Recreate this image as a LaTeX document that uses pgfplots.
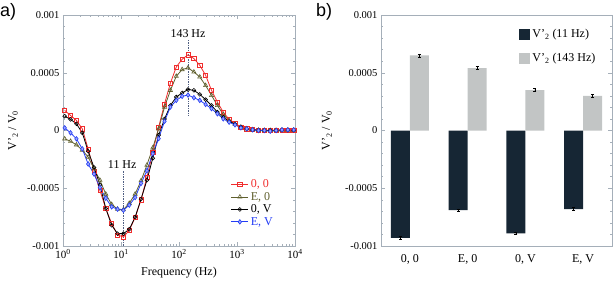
\documentclass[border=0pt]{standalone}
\usepackage{pgfplots}
\pgfplotsset{compat=1.18}
\usepackage{pgfplotstable}
\usepackage{fontspec}
\setmainfont{Liberation Serif}
\newfontfamily\arial{Liberation Sans}
\definecolor{myred}{RGB}{240,45,45}
\definecolor{myolive}{RGB}{95,95,45}
\definecolor{myblue}{RGB}{35,60,245}
\definecolor{frame}{RGB}{165,175,185}
\definecolor{darkbar}{RGB}{22,38,52}
\definecolor{lightbar}{RGB}{194,197,197}
\definecolor{dotc}{RGB}{80,95,130}

\pgfplotstableread{
f r o k b
1.069 1.74e-4 -0.72e-4 1.24e-4 0.23e-4
1.350 1.30e-4 -0.93e-4 0.96e-4 -0.20e-4
1.704 0.87e-4 -1.24e-4 0.58e-4 -0.72e-4
2.152 0.15e-4 -1.70e-4 -0.20e-4 -1.59e-4
2.716 -1.60e-4 -2.30e-4 -1.80e-4 -2.90e-4
3.430 -3.50e-4 -3.30e-4 -3.20e-4 -3.77e-4
4.330 -5.20e-4 -4.30e-4 -4.70e-4 -4.93e-4
5.468 -6.75e-4 -5.50e-4 -6.75e-4 -5.86e-4
6.904 -8.06e-4 -6.40e-4 -8.20e-4 -6.61e-4
8.716 -9.04e-4 -6.80e-4 -8.93e-4 -6.81e-4
11.00 -9.22e-4 -6.85e-4 -8.93e-4 -6.90e-4
13.89 -8.64e-4 -6.30e-4 -8.55e-4 -6.46e-4
17.54 -7.54e-4 -5.50e-4 -7.50e-4 -5.80e-4
22.15 -6.00e-4 -4.35e-4 -5.94e-4 -4.58e-4
27.97 -4.05e-4 -3.00e-4 -4.30e-4 -3.48e-4
35.31 -1.90e-4 -1.50e-4 -2.40e-4 -2.00e-4
44.59 0.30e-4 0.15e-4 -0.40e-4 -0.70e-4
56.29 2.30e-4 2.03e-4 1.00e-4 0.80e-4
71.08 4.10e-4 3.48e-4 2.17e-4 2.03e-4
89.75 5.50e-4 4.70e-4 2.90e-4 2.61e-4
113.3 6.17e-4 5.28e-4 3.25e-4 2.96e-4
143.1 6.55e-4 5.42e-4 3.55e-4 3.07e-4
180.6 6.23e-4 5.07e-4 3.48e-4 2.84e-4
228.0 5.65e-4 4.64e-4 3.13e-4 2.61e-4
287.9 4.78e-4 3.90e-4 2.67e-4 2.26e-4
363.5 3.48e-4 3.04e-4 2.17e-4 1.89e-4
459.0 2.46e-4 2.17e-4 1.59e-4 1.45e-4
579.5 1.59e-4 1.39e-4 1.16e-4 1.01e-4
731.7 0.96e-4 0.87e-4 0.78e-4 0.72e-4
923.8 0.64e-4 0.55e-4 0.55e-4 0.49e-4
1166 0.29e-4 0.30e-4 0.30e-4 0.23e-4
1473 0.15e-4 0.15e-4 0.15e-4 0.15e-4
1859 0.09e-4 0.08e-4 0.06e-4 0.06e-4
2348 0.03e-4 0.03e-4 0.02e-4 0.00
2964 0.02e-4 0.02e-4 0.01e-4 0.00
3742 0.00 0.01e-4 0.00 -0.06e-4
4725 0.02e-4 0.02e-4 0.01e-4 0.00
5966 0.05e-4 0.04e-4 0.03e-4 0.06e-4
7532 0.05e-4 0.04e-4 0.03e-4 0.06e-4
9509 0.05e-4 0.04e-4 0.03e-4 0.06e-4
}\spectra

\pgfplotstableread{
x y e
0 -0.00093 0.000012
1 -0.00069 0.000012
2 -0.00089 0.000012
3 -0.00068 0.000012
}\lowf

\pgfplotstableread{
x y e
0 0.00065 0.000013
1 0.00054 0.000012
2 0.00035 0.000012
3 0.00030 0.000013
}\highf

\pgfplotsset{
  common/.style={
    scale only axis,
    anchor=south west,
    ymin=-0.001, ymax=0.001,
    scaled y ticks=false,
    ytick={-0.001,-0.0005,0,0.0005,0.001},
    yticklabels={-0.001,-0.0005,0,0.0005,0.001},
    minor y tick num=4,
    axis line style={frame},
    tick style={frame, line width=0.5pt},
    major tick length=4pt, minor tick length=2pt,
    tick align=inside,
    /pgf/number format/assume math mode=true,
    yticklabel style={font=\fontsize{10.5}{12}\selectfont},
    label style={font=\fontsize{12}{14}\selectfont},
    ylabel={V'\textsubscript{2} / V\textsubscript{0}},
  }
}

\begin{document}
\begin{tikzpicture}
\useasboundingbox (0pt,0pt) rectangle (614pt,-282pt);

\begin{axis}[common,
  at={(63pt,-246pt)}, width=232pt, height=231pt,
  xmode=log, xmin=1, xmax=10000,
  xtick={1,10,100,1000,10000},
  xticklabels={10\textsuperscript{0},10\textsuperscript{1},10\textsuperscript{2},10\textsuperscript{3},10\textsuperscript{4}},
  xticklabel style={font=\fontsize{11}{12}\selectfont},
  xlabel={Frequency (Hz)},
  xlabel style={at={(axis description cs:0.5,-0.117)}, anchor=center},
  ylabel style={at={(axis description cs:-0.215,0.5)}, anchor=center},
  legend style={at={(0.71,0.305)}, anchor=north west, draw=none, fill=none,
    font=\fontsize{12}{13}\selectfont, row sep=-1pt},
  legend cell align=left,
  every axis plot/.append style={line width=0.8pt},
]
\draw[densely dotted, dotc, line width=0.7pt] (axis cs:11,-0.001) -- (axis cs:11,-0.00034);
\draw[densely dotted, dotc, line width=0.7pt] (axis cs:143,0.00013) -- (axis cs:143,0.00078);
\node[font=\fontsize{12}{14}\selectfont] at (axis cs:10.5,-0.000296) {11 Hz};
\node[font=\fontsize{12}{14}\selectfont] at (axis cs:143,0.00084) {143 Hz};

\addplot[myred, mark=square, mark size=2.1pt, mark options={fill=myred!12, line width=0.6pt}] table[x=f,y=r] {\spectra};
\addlegendentry{\textcolor{myred}{0, 0}}
\addplot[myolive, mark=triangle, mark size=2.4pt, mark options={line width=0.6pt}] table[x=f,y=o] {\spectra};
\addlegendentry{\textcolor{myolive}{E, 0}}
\addplot[black, mark=o, mark size=1.9pt, mark options={fill=gray!60, line width=0.6pt}] table[x=f,y=k] {\spectra};
\addlegendentry{\textcolor{black}{0, V}}
\addplot[myblue, mark=diamond*, mark size=2.3pt, mark options={fill=myblue!45, line width=0.6pt}] table[x=f,y=b] {\spectra};
\addlegendentry{\textcolor{myblue}{E, V}}
\end{axis}

\begin{axis}[common,
  at={(381pt,-246pt)}, width=231pt, height=231pt,
  xmin=-0.5, xmax=3.5,
  xtick={0,1,2,3},
  xticklabels={{0, 0},{E, 0},{0, V},{E, V}},
  xticklabel style={font=\fontsize{12}{14}\selectfont, yshift=-1pt},
  xtick style={draw=none},
  ylabel style={at={(axis description cs:-0.234,0.5)}, anchor=center},
  ybar=0pt, bar width=0.33,
  legend style={at={(0.585,0.955)}, anchor=north west, draw=none, fill=none,
    font=\fontsize{12}{14}\selectfont, row sep=10pt},
  legend cell align=left,
  legend image code/.code={\fill[#1] (0pt,-5.5pt) rectangle (11pt,5.5pt);},
]
\addplot[fill=darkbar, draw=none,
  error bars/.cd, y dir=both, y explicit,
  error bar style={black, line width=0.5pt},
  error mark options={rotate=90, mark size=1.5pt, black, line width=0.5pt}]
  table[x=x, y=y, y error=e] {\lowf};
\addlegendentry{V'\textsubscript{2} (11 Hz)}
\addplot[fill=lightbar, draw=none,
  error bars/.cd, y dir=both, y explicit,
  error bar style={black, line width=0.5pt},
  error mark options={rotate=90, mark size=1.5pt, black, line width=0.5pt}]
  table[x=x, y=y, y error=e] {\highf};
\addlegendentry{V'\textsubscript{2} (143 Hz)}
\end{axis}

\node[font=\arial\fontsize{18}{18}\selectfont, anchor=north west, inner sep=0pt] at (0pt,-3pt) {a)};
\node[font=\arial\fontsize{18}{18}\selectfont, anchor=north west, inner sep=0pt] at (316pt,-3pt) {b)};
\end{tikzpicture}
\end{document}
